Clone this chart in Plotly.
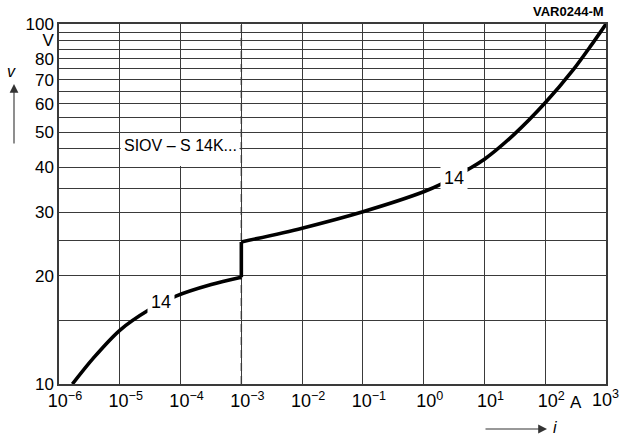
import plotly.graph_objects as go

# Data (current in A, voltage in V)
i_low = [1.66e-6, 3.67e-6, 1e-5, 2.9e-5, 8.4e-5, 3.2e-4, 1e-3]
v_low = [10.0, 11.8, 14.1, 16.0, 17.55, 18.9, 19.8]
i_high = [1e-3, 1e-2, 1e-1, 1.0, 1.94, 5.46, 10.0, 30.2, 100.0, 292.0, 550.0, 1000.0]
v_high = [24.8, 27.1, 30.1, 34.2, 35.9, 39.5, 42.1, 49.2, 60.4, 74.8, 86.5, 100.0]

x_tickvals = [1e-6, 1e-5, 1e-4, 1e-3, 1e-2, 1e-1, 1e0, 1e1, 1e2, 1e3]
x_ticktext = ["10<sup>−6</sup>", "10<sup>−5</sup>", "10<sup>−4</sup>", "10<sup>−3</sup>",
              "10<sup>−2</sup>", "10<sup>−1</sup>", "10<sup>0</sup>", "10<sup>1</sup>",
              "10<sup>2</sup>", "10<sup>3</sup>"]
y_tickvals = [10, 15, 20, 25, 30, 35, 40, 45, 50, 55, 60, 65, 70, 75, 80, 85, 90, 95, 100]
y_ticktext = ["10", "", "20", "", "30", "", "40", "", "50", "", "60", "", "70", "", "80", "", "V", "", "100"]

FONT = "Liberation Sans, Arial, sans-serif"
GRID = "#3a3a3a"
LINE = "black"

fig = go.Figure()
fig.add_trace(go.Scatter(x=i_low, y=v_low, mode="lines",
                         line=dict(color=LINE, width=3.6, shape="spline", smoothing=0.8),
                         showlegend=False, hoverinfo="skip"))
fig.add_trace(go.Scatter(x=[i_low[-1], i_high[0]], y=[v_low[-1], v_high[0]], mode="lines",
                         line=dict(color=LINE, width=3.6), showlegend=False, hoverinfo="skip"))
fig.add_trace(go.Scatter(x=i_high, y=v_high, mode="lines",
                         line=dict(color=LINE, width=3.6, shape="spline", smoothing=0.8),
                         showlegend=False, hoverinfo="skip"))

# hide the 1e-3 gridline and replace it with a dashed line
fig.add_shape(type="line", xref="x", yref="paper", x0=1e-3, x1=1e-3, y0=0, y1=1,
              line=dict(color="white", width=2), layer="between")
fig.add_shape(type="line", xref="x", yref="paper", x0=1e-3, x1=1e-3, y0=0, y1=1,
              line=dict(color="#555555", width=1.5, dash="8px,5px"), layer="between")
# white box for the type label
fig.add_shape(type="rect", xref="x", yref="y", x0=10**-4.985, x1=10**-3.03, y0=40.3, y1=49.8,
              line=dict(width=0), fillcolor="white", layer="between")

ann = [
    dict(text="SIOV – S 14K...", x=-4.0, y=1.6625, xref="x", yref="y", showarrow=False,
         font=dict(size=16, family=FONT, color="black")),
    dict(text="14", x=-4.32, y=1.228, xref="x", yref="y", showarrow=False, bgcolor="white",
         font=dict(size=18, family=FONT, color="black"), borderpad=3),
    dict(text="14", x=0.50, y=1.572, xref="x", yref="y", showarrow=False, bgcolor="white",
         font=dict(size=18, family=FONT, color="black"), borderpad=3),
    dict(text="<b>VAR0244-M</b>", x=1.0, y=1.0, xref="paper", yref="paper", xanchor="right",
         yanchor="bottom", yshift=3, showarrow=False, font=dict(size=13, family=FONT, color="black")),
    dict(text="A", x=2.5, y=0, xref="x", yref="paper", yanchor="top", yshift=-7, showarrow=False,
         font=dict(size=17, family=FONT, color="black")),
    # last decade label, kept inside the page
    dict(text=x_ticktext[-1], x=3, y=0, xref="x", yref="paper", xanchor="left", yanchor="top",
         xshift=-16, yshift=-1, showarrow=False, font=dict(size=18, family=FONT, color="black")),
    # y-axis arrow and label
    dict(text="", x=-45 / 547, y=(384 - 84) / 360, xref="paper", yref="paper", showarrow=True,
         ax=0, ay=61, arrowhead=2, arrowsize=1.6, arrowwidth=1.1, arrowcolor="#333"),
    dict(text="<i>v</i>", x=-48 / 547, y=(384 - 72) / 360, xref="paper", yref="paper",
         xanchor="center", yanchor="middle", showarrow=False,
         font=dict(size=16, family=FONT, color="black")),
    # x-axis arrow and label
    dict(text="", x=(547 - 59) / 547, y=(384 - 429) / 360, xref="paper", yref="paper", showarrow=True,
         ax=-63, ay=0, arrowhead=2, arrowsize=1.6, arrowwidth=1.1, arrowcolor="#333"),
    dict(text="<i>i</i>", x=(555 - 59) / 547, y=(384 - 427) / 360, xref="paper", yref="paper",
         xanchor="center", yanchor="middle", showarrow=False,
         font=dict(size=16, family=FONT, color="black")),
]

fig.update_layout(
    width=621, height=435,
    margin=dict(l=59, r=15, t=24, b=51, autoexpand=False),
    paper_bgcolor="white", plot_bgcolor="white",
    font=dict(family=FONT, color="black"),
    annotations=ann,
    showlegend=False,
)
fig.update_xaxes(type="log", range=[-6, 3], tickvals=x_tickvals[:-1], ticktext=x_ticktext[:-1],
                 showgrid=True, gridcolor=GRID, gridwidth=1, showline=True, linecolor=GRID,
                 linewidth=1.5, mirror=True, ticks="", tickfont=dict(size=18), zeroline=False,
                 automargin=False, ticklabelshift=6)
fig.update_yaxes(type="log", range=[1, 2], tickvals=y_tickvals, ticktext=y_ticktext,
                 showgrid=True, gridcolor=GRID, gridwidth=1, showline=True, linecolor=GRID,
                 linewidth=1.5, mirror=True, ticks="", tickfont=dict(size=17), zeroline=False,
                 automargin=False)

fig.write_html("out.html")
